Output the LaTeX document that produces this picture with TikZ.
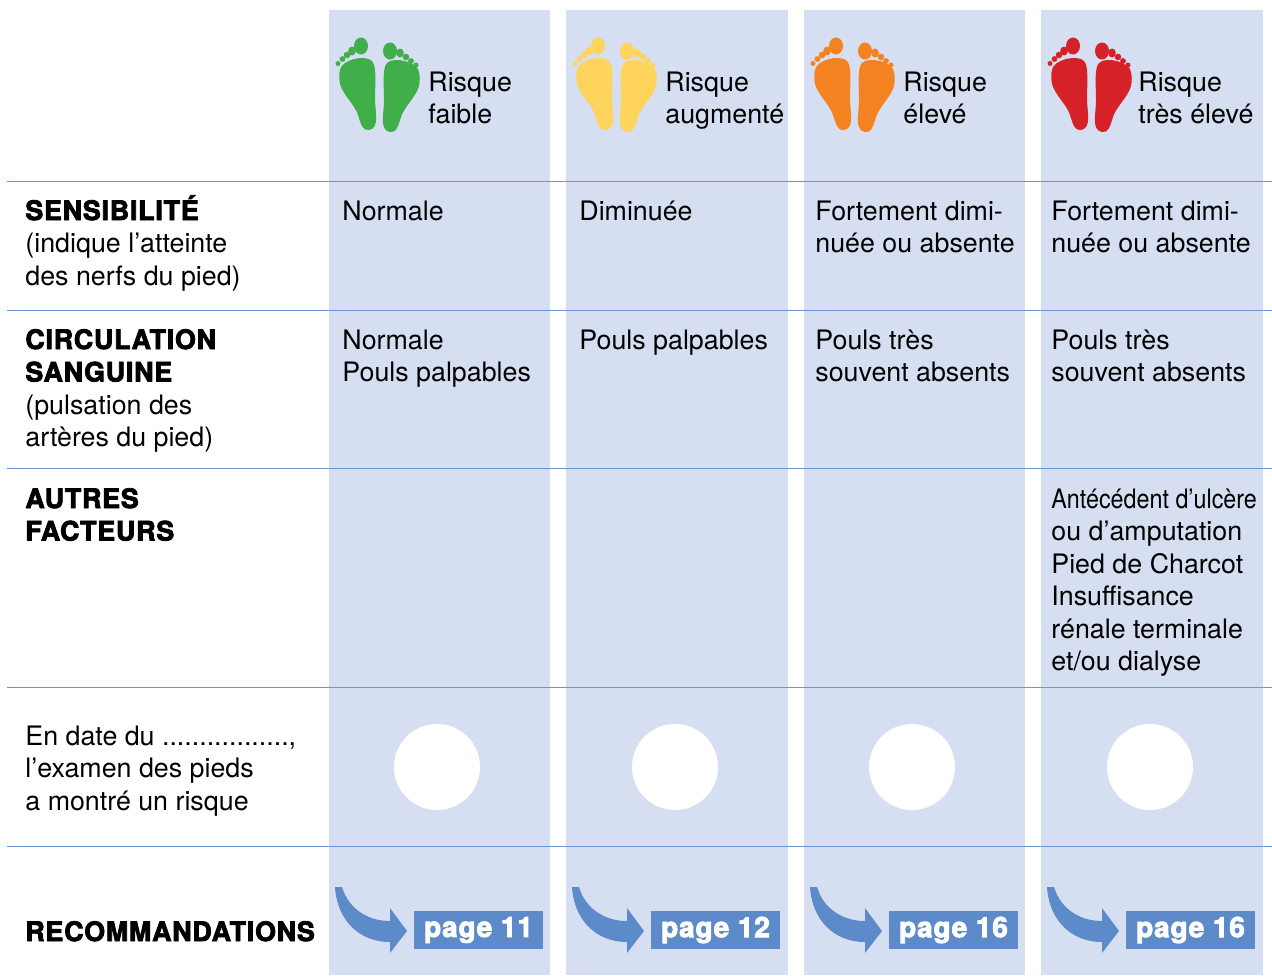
\documentclass[tikz,border=0pt]{standalone}
\usepackage{fontspec}
\setmainfont{TeX Gyre Heros}
\newfontfamily\heavyfont{TeX Gyre Heros}[BoldFeatures={FakeBold=3, LetterSpace=3}]
\usepackage{graphicx}

\definecolor{bandblue}{HTML}{D6DFF2}
\definecolor{linecolor}{HTML}{6F94D2}
\definecolor{pageblue}{HTML}{5D8AC8}
\definecolor{footgreen}{HTML}{40AE49}
\definecolor{footyellow}{HTML}{FFD45C}
\definecolor{footorange}{HTML}{F58220}
\definecolor{footred}{HTML}{D52229}

\newcommand{\rowtitle}[1]{{\heavyfont\bfseries #1}}
\newcommand{\stacked}[1]{\begin{tabular}[t]{@{}l@{}}#1\end{tabular}}

\tikzstyle{celltext} = [anchor=base west, inner sep=0pt, font=\fontsize{13.4}{16.25}\selectfont]
\tikzstyle{pagebox} = [fill=pageblue, text=white, minimum width=64.5pt, minimum height=19pt, inner sep=0pt, font=\fontsize{14}{16}\selectfont\heavyfont\bfseries]
\tikzstyle{dotcircle} = [circle, fill=white, minimum size=43pt, inner sep=0pt]
\tikzstyle{rowsep} = [draw=linecolor, line width=0.5pt]

\tikzset{
  footleft/.pic={
    \fill (11,70) .. controls (12,60) and (36,54) .. (43,61)
      .. controls (48,66) and (46,85) .. (46,98)
      .. controls (46,112) and (51,128) .. (40,130)
      .. controls (34,131) and (32,125) .. (29,115)
      .. controls (26,105) and (14,95) .. (11,84)
      .. controls (10,79) and (10,74) .. (11,70) -- cycle;
    \fill (32,46) ellipse [x radius=7, y radius=8.5];
    \fill (23,51) ellipse [x radius=3.8, y radius=4.5];
    \fill (18,55) circle [radius=3.3];
    \fill (13.5,59) circle [radius=2.9];
    \fill (9,63.5) circle [radius=2.5];
  },
  footright/.pic={
    \fill (90,72) .. controls (89,62) and (65,56) .. (58,63)
      .. controls (53,68) and (55,87) .. (55,100)
      .. controls (55,114) and (50,130) .. (61,132)
      .. controls (67,133) and (69,127) .. (72,117)
      .. controls (75,107) and (87,97) .. (90,86)
      .. controls (91,81) and (91,76) .. (90,72) -- cycle;
    \fill (61,51) ellipse [x radius=7, y radius=8.5];
    \fill (71,53) ellipse [x radius=3.8, y radius=4.5];
    \fill (77,57) circle [radius=3.3];
    \fill (82,61) circle [radius=2.9];
    \fill (87,65) circle [radius=2.5];
  },
  turnarrow/.pic={
    \fill (6,887) .. controls (8,920) and (30,942) .. (61,942) -- (61,953) -- (78,931)
      -- (61,908) -- (61,921) .. controls (40,921) and (20,910) .. (13,887) -- cycle;
  }
}

\begin{document}
\begin{tikzpicture}[x=0.5pt, y=-0.5pt]
\useasboundingbox (0,0) rectangle (1272,975);

% columns
\fill [bandblue] (329,10) rectangle (550,975);
\fill [bandblue] (566,10) rectangle (788,975);
\fill [bandblue] (804,10) rectangle (1025,975);
\fill [bandblue] (1041,10) rectangle (1263,975);

% rows
\draw [rowsep] (7,181) -- (1272,181);
\draw [rowsep] (7,310) -- (1272,310);
\draw [rowsep] (7,468) -- (1272,468);
\draw [rowsep] (7,687) -- (1272,687);
\draw [rowsep] (7,846) -- (1272,846);

% feet
\pic [color=footgreen] at (329,0) {footleft};
\pic [color=footgreen] at (329,0) {footright};
\pic [color=footyellow] at (566,0) {footleft};
\pic [color=footyellow] at (566,0) {footright};
\pic [color=footorange] at (804,0) {footleft};
\pic [color=footorange] at (804,0) {footright};
\pic [color=footred] at (1041,0) {footleft};
\pic [color=footred] at (1041,0) {footright};

\node (risk1) [celltext] at (428,91) {\stacked{Risque\\faible}};
\node (risk2) [celltext] at (665,91) {\stacked{Risque\\augmenté}};
\node (risk3) [celltext] at (903,91) {\stacked{Risque\\élevé}};
\node (risk4) [celltext] at (1138,91) {\stacked{Risque\\très élevé}};

% row labels
\node (lblsens) [celltext] at (25,220) {\stacked{\rowtitle{SENSIBILITÉ}\\(indique l’atteinte\\des nerfs du pied)}};
\node (lblcirc) [celltext] at (25,349) {\stacked{\rowtitle{CIRCULATION}\\\rowtitle{SANGUINE}\\(pulsation des\\artères du pied)}};
\node (lblother) [celltext] at (25,508) {\stacked{\rowtitle{AUTRES}\\\rowtitle{FACTEURS}}};
\node (lbldate) [celltext] at (25,745) {\stacked{En date du .................,\\l’examen des pieds\\a montré un risque}};
\node (lblreco) [celltext] at (25,941) {\rowtitle{RECOMMANDATIONS}};

\node (sens1) [celltext] at (342,220) {Normale};
\node (sens2) [celltext] at (579,220) {Diminuée};
\node (sens3) [celltext] at (815,220) {\stacked{Fortement dimi-\\nuée ou absente}};
\node (sens4) [celltext] at (1051,220) {\stacked{Fortement dimi-\\nuée ou absente}};

\node (circ1) [celltext] at (342,349) {\stacked{Normale\\Pouls palpables}};
\node (circ2) [celltext] at (579,349) {Pouls palpables};
\node (circ3) [celltext] at (815,349) {\stacked{Pouls très\\souvent absents}};
\node (circ4) [celltext] at (1051,349) {\stacked{Pouls très\\souvent absents}};

\node (other4) [celltext] at (1051,508) {\stacked{\scalebox{0.87}[1]{Antécédent d’ulcère}\\ou d’amputation\\Pied de Charcot\\Insuffisance\\rénale terminale\\et/ou dialyse}};

\node (dot1) [dotcircle] at (437,767) {};
\node (dot2) [dotcircle] at (675,767) {};
\node (dot3) [dotcircle] at (912,767) {};
\node (dot4) [dotcircle] at (1150,767) {};

% recommendations
\pic [color=pageblue] at (329,0) {turnarrow};
\pic [color=pageblue] at (566,0) {turnarrow};
\pic [color=pageblue] at (804,0) {turnarrow};
\pic [color=pageblue] at (1041,0) {turnarrow};
\node (page1) [pagebox] at (478.5,930) {page 11};
\node (page2) [pagebox] at (715.5,930) {page 12};
\node (page3) [pagebox] at (953.5,930) {page 16};
\node (page4) [pagebox] at (1190.5,930) {page 16};

\end{tikzpicture}
\end{document}
